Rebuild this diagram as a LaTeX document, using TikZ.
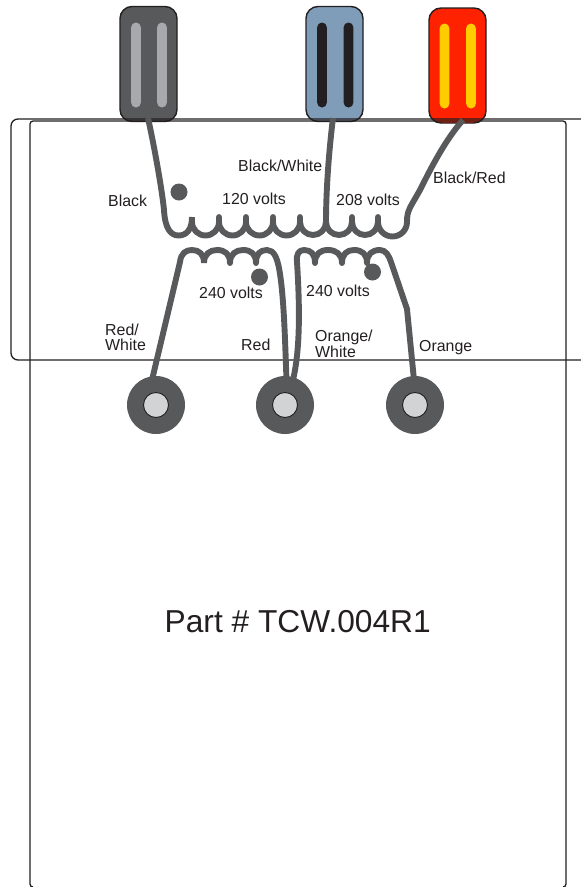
\documentclass[tikz,border=0pt]{standalone}
\usepackage{fontspec}
\setmainfont{Liberation Sans}
\definecolor{wire}{HTML}{58595B}
\definecolor{ink}{HTML}{231F20}
\definecolor{pinfill}{HTML}{D1D3D4}
\definecolor{lightslot}{HTML}{A7A9AC}
\definecolor{bluebody}{HTML}{7F9DB9}
\definecolor{redbody}{HTML}{FF2200}
\definecolor{yellowslot}{HTML}{FFCC00}
\tikzset{
  plug/.style={draw=ink,line width=1.4pt,rounded corners=12pt,minimum width=57pt,minimum height=115pt,inner sep=0pt},
  slot/.style={rounded corners=4.9pt,minimum width=9.8pt,minimum height=85pt,inner sep=0pt},
  wireline/.style={draw=wire,line width=5.9pt,line join=round},
  frameline/.style={draw=ink,line width=1.3pt},
  dotmark/.style={circle,fill=wire,minimum size=17pt,inner sep=0pt},
  ring/.style={circle,fill=wire,minimum size=58pt,inner sep=0pt},
  pin/.style={circle,fill=pinfill,draw=ink,line width=0.9pt,minimum size=25pt,inner sep=0pt},
  lab/.style={font=\fontsize{15.9}{15.9}\selectfont,text=ink,inner sep=0pt,align=left},
}
\begin{document}
\begin{tikzpicture}[x=1pt,y=-1pt]
\useasboundingbox (0,0) rectangle (581,887);
% plugs
\node[plug,fill=wire] (pk) at (148.5,64) {};
\node[slot,fill=lightslot] (pk1) at (136,65) {};
\node[slot,fill=lightslot] (pk2) at (162,65) {};
\node[plug,fill=bluebody] (pb) at (334.5,64) {};
\node[slot,fill=ink] (pb1) at (322,65) {};
\node[slot,fill=ink] (pb2) at (348.5,65) {};
\node[plug,fill=redbody] (pr) at (457.5,65.5) {};
\node[slot,fill=yellowslot] (pr1) at (444.5,66) {};
\node[slot,fill=yellowslot] (pr2) at (471,66) {};
% frames
\draw[frameline,rounded corners=7pt] (581,119) -- (11,119) -- (11,360) -- (581,360);
\draw[frameline,rounded corners=3pt] (33,887) -- (30,887) -- (30,121) -- (566,121) -- (566,887) -- (563,887);
% terminals
\node[ring] (t1) at (156,405) {};
\node[ring] (t2) at (285,405) {};
\node[ring] (t3) at (415,405) {};
\coordinate (w1) at (152,380);
\coordinate (w2) at (286.5,380);
\coordinate (w3) at (293,380);
\coordinate (w4) at (414,380);
% primary
\coordinate (bs) at (148,118);
\coordinate (ws) at (333,118);
\coordinate (rs) at (463,120);
\draw[wireline] (bs) .. controls (155,150) and (162,190) .. (164,210)
  .. controls (165,229) and (171,235.5) .. (178.5,235.5)
  .. controls (187,235.5) and (192,229) .. (192,217);
\draw[wireline] (192,217) -- (192,222) arc[start angle=180,end angle=0,radius=13.5]
 -- (219,217) -- (219,222) arc[start angle=180,end angle=0,radius=13.5]
 -- (246,217) -- (246,222) arc[start angle=180,end angle=0,radius=13.5]
 -- (273,217) -- (273,222) arc[start angle=180,end angle=0,radius=13.5]
 -- (300,217) -- (300,222) arc[start angle=180,end angle=0,radius=13]
 -- (326,217) -- (326,222) arc[start angle=180,end angle=0,radius=13]
 -- (352,217) -- (352,222) arc[start angle=180,end angle=0,radius=13]
 -- (378,217) -- (378,222) arc[start angle=180,end angle=0,radius=14.5]
 -- (407,217);
\draw[wireline] (ws) .. controls (329,150) and (326,190) .. (326,222);
\draw[wireline] (rs) .. controls (445,140) and (430,170) .. (420,190)
  .. controls (410,208) and (407,210) .. (407,222);
% secondary left
\draw[wireline] (w1) -- (180,262) .. controls (181,253) and (186,250) .. (192,250)
  .. controls (199,250) and (204,254) .. (204,263);
\draw[wireline] (204,263) .. controls (204,254) and (210,250) .. (217,250)
  .. controls (225,250) and (230,254) .. (230,263)
  .. controls (230,254) and (236,250) .. (243,250)
  .. controls (251,250) and (256,254) .. (256,263)
  .. controls (256,254) and (260,250) .. (267,250)
  .. controls (274,250) and (277,258) .. (279,268)
  .. controls (284,295) and (285,340) .. (w2);
% secondary right
\draw[wireline] (w3) .. controls (300,350) and (300,310) .. (297,262)
  .. controls (296,254) and (299,250) .. (304,250)
  .. controls (311,250) and (315,254) .. (315,263)
  .. controls (315,254) and (320,250) .. (328,250)
  .. controls (336,250) and (342,254) .. (342,263)
  .. controls (342,254) and (347,250) .. (354,250)
  .. controls (362,250) and (367,254) .. (367,263)
  .. controls (367,254) and (372,250) .. (380,250)
  .. controls (386,250) and (389,256) .. (391,262)
  -- (407,309) -- (w4);
% pins on top
\node[pin] (p1) at (156,405) {};
\node[pin] (p2) at (285,405) {};
\node[pin] (p3) at (415,405) {};
% dots
\node[dotmark] (d1) at (179,192) {};
\node[dotmark] (d2) at (259.5,277) {};
\node[dotmark] (d3) at (372.5,272) {};
% labels
\node[lab,anchor=west] (l1) at (108,201) {Black};
\node[lab,anchor=west] (l2) at (238,166) {Black/White};
\node[lab,anchor=west] (l3) at (433,178) {Black/Red};
\node[lab,anchor=west] (l4) at (222,199) {120 volts};
\node[lab,anchor=west] (l5) at (336,200) {208 volts};
\node[lab,anchor=west] (l6) at (199,293) {240 volts};
\node[lab,anchor=west] (l7) at (306,291) {240 volts};
\node[lab,anchor=west] (l8) at (105,330) {Red/};
\node[lab,anchor=west] (l9) at (105,345) {White};
\node[lab,anchor=west] (l10) at (241,345) {Red};
\node[lab,anchor=west] (l11) at (315,337) {Orange/};
\node[lab,anchor=west] (l12) at (315,352) {White};
\node[lab,anchor=west] (l13) at (419,348) {Orange};
\node[font=\fontsize{31.7}{31.7}\selectfont,text=ink,inner sep=0pt,anchor=west] (title) at (164.5,622) {Part \# TCW.004R1};
\end{tikzpicture}
\end{document}
